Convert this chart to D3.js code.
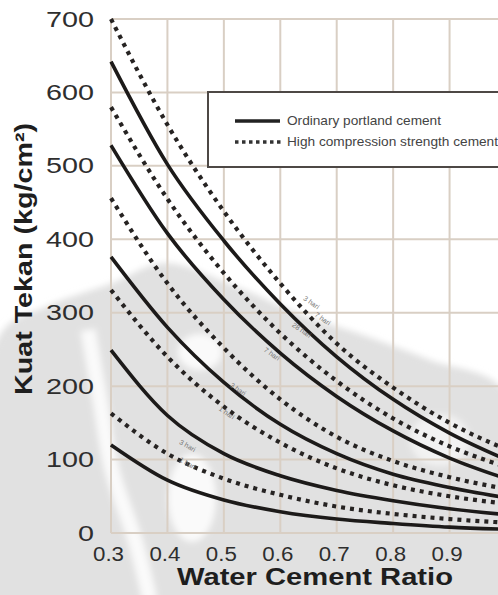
<!DOCTYPE html>
<html>
<head>
<meta charset="utf-8">
<script src="https://cdn.jsdelivr.net/npm/d3@7"></script>
<style>
  html, body { margin: 0; padding: 0; background: #fff; }
  svg { display: block; font-family: "Liberation Sans", Arial, sans-serif; }
</style>
</head>
<body>
<div id="chart"></div>
<script>
// water cement ratio along x
const ratio = [0.3, 0.4, 0.5, 0.6, 0.7, 0.8, 0.9, 1.0];

// ordinary portland cement (solid)
const ordinary1 = [642, 502, 398, 312, 240, 182, 136, 100];
const ordinary2 = [528, 408, 318, 245, 186, 139, 102, 74];
const ordinary3 = [376, 280, 205, 148, 108, 80, 62, 48];
const ordinary4 = [249, 160, 108, 78, 58, 44, 33, 25];
const ordinary5 = [120, 72, 45, 29, 19, 13, 8, 5];

// high compression strength cement (dotted)
const high1 = [700, 556, 438, 340, 258, 198, 150, 114];
const high2 = [580, 455, 354, 272, 207, 156, 118, 90];
const high3 = [456, 340, 252, 182, 131, 98, 76, 60];
const high4 = [331, 240, 172, 123, 88, 65, 50, 40];
const high5 = [163, 108, 74, 52, 36, 26, 19, 14];

const yTicks = [0, 100, 200, 300, 400, 500, 600, 700];
const xTicks = [0.3, 0.4, 0.5, 0.6, 0.7, 0.8, 0.9];
const gridX = [0.3, 0.4, 0.5, 0.6, 0.7, 0.8, 0.9, 1.0];

const legendLabels = ['Ordinary portland cement', 'High compression strength cement'];

const width = 498;
const height = 595;

const svg = d3.select('#chart').append('svg')
  .attr('width', width)
  .attr('height', height);

svg.append('rect').attr('width', width).attr('height', height).attr('fill', '#fff');

const x = d3.scaleLinear().domain([0.3, 1.0]).range([111, 506]);
const y = d3.scaleLinear().domain([0, 700]).range([533, 19]);

// faint logo watermark behind the chart (rough shape only, soft edges)
svg.append('filter').attr('id', 'soft')
  .append('feGaussianBlur').attr('stdDeviation', 3);

const wm = svg.append('g').attr('filter', 'url(#soft)');
const blob = d3.line().curve(d3.curveCatmullRomClosed);
wm.append('path')
  .attr('d', blob([[0, 335], [50, 305], [110, 284], [165, 263], [230, 284], [300, 314],
    [360, 334], [430, 360], [505, 392], [510, 600], [250, 605], [-10, 600]]))
  .attr('fill', '#e1e1e1');
const streak = d3.line().curve(d3.curveCatmullRom);
wm.append('path')
  .attr('d', streak([[88, 330], [100, 400], [112, 470], [135, 540], [150, 600]]))
  .attr('fill', 'none')
  .attr('stroke', '#fafafa')
  .attr('stroke-width', 15);
wm.append('ellipse')
  .attr('cx', 192).attr('cy', 498).attr('rx', 24).attr('ry', 44)
  .attr('fill', '#fafafa');
wm.append('ellipse')
  .attr('cx', 200).attr('cy', 352).attr('rx', 22).attr('ry', 18)
  .attr('fill', '#fafafa');
wm.append('ellipse')
  .attr('cx', 440).attr('cy', 440).attr('rx', 30).attr('ry', 26)
  .attr('fill', '#f2f2f2');

// grid
const grid = svg.append('g')
  .attr('stroke', '#d9cfc4')
  .attr('stroke-width', 2);

grid.selectAll('line.h')
  .data(yTicks)
  .join('line')
  .attr('class', 'h')
  .attr('x1', x(0.3))
  .attr('x2', x(1.0))
  .attr('y1', (d) => y(d))
  .attr('y2', (d) => y(d));

grid.selectAll('line.v')
  .data(gridX)
  .join('line')
  .attr('class', 'v')
  .attr('x1', (d) => x(d))
  .attr('x2', (d) => x(d))
  .attr('y1', y(700))
  .attr('y2', y(0));

// legend box (drawn over grid)
const legend = svg.append('g');
legend.append('rect')
  .attr('x', 208)
  .attr('y', 92)
  .attr('width', 320)
  .attr('height', 75)
  .attr('fill', '#fff')
  .attr('stroke', '#4d4845')
  .attr('stroke-width', 2);

legend.append('line')
  .attr('x1', 235).attr('x2', 280)
  .attr('y1', 121).attr('y2', 121)
  .attr('stroke', '#222').attr('stroke-width', 3.5);

legend.append('line')
  .attr('x1', 235).attr('x2', 281)
  .attr('y1', 142).attr('y2', 142)
  .attr('stroke', '#333').attr('stroke-width', 3.5)
  .attr('stroke-dasharray', '3.5 3.5');

legend.selectAll('text')
  .data(legendLabels)
  .join('text')
  .attr('x', 287)
  .attr('y', (d, i) => 125 + i * 21)
  .attr('font-size', 13)
  .attr('fill', '#444')
  .attr('textLength', (d, i) => (i === 0 ? 154 : 211))
  .attr('lengthAdjust', 'spacingAndGlyphs')
  .text((d) => d);

// curves
svg.append('clipPath').attr('id', 'plot')
  .append('rect')
  .attr('x', x(0.3) - 4)
  .attr('y', 10)
  .attr('width', 420)
  .attr('height', y(0) - 10);

const line = d3.line()
  .x((d, i) => x(ratio[i]))
  .y((d) => y(d))
  .curve(d3.curveMonotoneX);

const curves = svg.append('g').attr('clip-path', 'url(#plot)').attr('fill', 'none');

curves.selectAll('path.solid')
  .data([ordinary1, ordinary2, ordinary3, ordinary4, ordinary5])
  .join('path')
  .attr('class', 'solid')
  .attr('d', line)
  .attr('stroke', '#1c1a19')
  .attr('stroke-width', 3.6);

curves.selectAll('path.dotted')
  .data([high1, high2, high3, high4, high5])
  .join('path')
  .attr('class', 'dotted')
  .attr('d', line)
  .attr('stroke', '#262322')
  .attr('stroke-width', 4.2)
  .attr('stroke-dasharray', '4 5');

// small curing-age notes along the curves
const notes = [
  { t: '3 hari', r: 0.64, v: 318, a: 35 },
  { t: '7 hari', r: 0.66, v: 296, a: 35 },
  { t: '28 hari', r: 0.62, v: 282, a: 35 },
  { t: '7 hari', r: 0.57, v: 248, a: 35 },
  { t: '3 hari', r: 0.51, v: 200, a: 35 },
  { t: '1 hari', r: 0.49, v: 168, a: 35 },
  { t: '3 hari', r: 0.42, v: 122, a: 30 },
  { t: '1 hari', r: 0.42, v: 98, a: 30 }
];

svg.append('g').selectAll('text')
  .data(notes)
  .join('text')
  .attr('transform', (d) => `translate(${x(d.r)},${y(d.v)}) rotate(${d.a})`)
  .attr('font-size', 7)
  .attr('fill', '#777')
  .text((d) => d.t);

// axes labels
const yAxis = svg.append('g')
  .attr('transform', `translate(${x(0.3)},0)`)
  .call(d3.axisLeft(y).tickValues(yTicks).tickSize(0).tickPadding(17));
yAxis.select('.domain').remove();
yAxis.selectAll('text')
  .attr('font-size', 22)
  .attr('font-family', '"Liberation Sans", Arial, sans-serif')
  .attr('fill', '#2e2e2e')
  .attr('textLength', (d) => String(d).length * 16)
  .attr('lengthAdjust', 'spacingAndGlyphs');

const xAxis = svg.append('g')
  .attr('transform', `translate(0,${y(0)})`)
  .call(d3.axisBottom(x).tickValues(xTicks).tickSize(0).tickPadding(14).tickFormat(d3.format('.1f')));
xAxis.select('.domain').remove();
xAxis.selectAll('text')
  .attr('font-size', 20)
  .attr('font-family', '"Liberation Sans", Arial, sans-serif')
  .attr('fill', '#2e2e2e')
  .attr('dx', -3)
  .attr('textLength', 31)
  .attr('lengthAdjust', 'spacingAndGlyphs');

// titles
svg.append('text')
  .attr('x', 315)
  .attr('y', 585)
  .attr('text-anchor', 'middle')
  .attr('font-size', 23)
  .attr('font-weight', 'bold')
  .attr('fill', '#1e1e1e')
  .attr('textLength', 276)
  .attr('lengthAdjust', 'spacingAndGlyphs')
  .text('Water Cement Ratio');

svg.append('text')
  .attr('transform', 'rotate(-90)')
  .attr('x', -259)
  .attr('y', 32)
  .attr('text-anchor', 'middle')
  .attr('font-size', 24)
  .attr('font-weight', 'bold')
  .attr('fill', '#1e1e1e')
  .attr('textLength', 272)
  .attr('lengthAdjust', 'spacingAndGlyphs')
  .text('Kuat Tekan (kg/cm²)');
</script>
</body>
</html>
